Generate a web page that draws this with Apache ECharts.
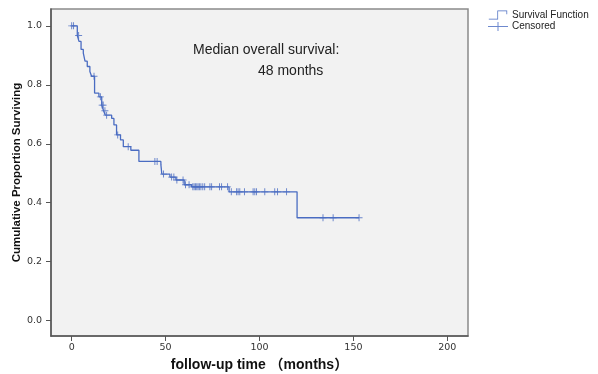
<!DOCTYPE html>
<html>
<head>
<meta charset="utf-8">
<script src="https://cdn.jsdelivr.net/npm/echarts@6/dist/echarts.min.js"></script>
<style>
html,body{margin:0;padding:0;background:#fff;}
#chart{width:598px;height:374px;}
</style>
</head>
<body>
<div id="chart"></div>
<script>
// event times (months) and survival right after each step
var eventTimes = [0, 3.0, 3.9, 5.0, 6.2, 7.1, 8.3, 9.7, 10.6, 12.2, 14.5, 16.0, 17.0, 17.9, 21.3, 22.5, 23.9, 26.0, 27.5, 31.5, 35.8, 47.5, 48.0, 52.3, 55.5, 59.9, 63.8, 83.8, 120.0, 153.0];
var survival   = [1.0, 0.967, 0.947, 0.92, 0.907, 0.88, 0.862, 0.845, 0.829, 0.772, 0.759, 0.731, 0.712, 0.697, 0.686, 0.664, 0.63, 0.613, 0.59, 0.578, 0.54, 0.529, 0.497, 0.487, 0.477, 0.461, 0.454, 0.437, 0.349, 0.349];
// censored times (months)
var censorTimes = [0, 1.0, 3.7, 11.9, 15.3, 16.2, 16.8, 17.7, 18.6, 24.5, 30.1, 44.3, 45.5, 48.9, 53.2, 54.4, 56.0, 59.3, 60.6, 62.5,
  64.5, 65.2, 65.9, 66.6, 67.3, 68.0, 68.8, 69.8, 70.8, 73.6, 74.5, 78.7, 79.8, 83.0, 85.0, 87.8, 88.6, 89.5, 92.0, 96.6, 97.5, 98.4,
  102.8, 108.1, 109.6, 114.4, 133.8, 139.2, 153.0];
var xTicks = [0, 50, 100, 150, 200];
var yTicks = [0, 0.2, 0.4, 0.6, 0.8, 1.0];

var lineColor = '#4a6cc2';

function survAt(t)
{
	var s = 1;
	for (var i = 0; i < eventTimes.length; i++) {
		if (eventTimes[i] <= t) s = survival[i];
	}
	return s;
}

var stepData = [];
for (var i = 0; i < eventTimes.length; i++) {
	stepData.push([eventTimes[i], survival[i]]);
}
var censorData = [];
for (var j = 0; j < censorTimes.length; j++) {
	censorData.push([censorTimes[j], survAt(censorTimes[j])]);
}

var myChart = echarts.init(document.getElementById('chart'), null, {renderer: 'canvas'});

var option = {
	backgroundColor: '#ffffff',
	animation: false,
	grid: {
		left: 51, top: 9, right: 130, bottom: 38,
		outerBoundsMode: 'none',
		containLabel: false,
		show: true,
		backgroundColor: '#f2f2f2',
		borderColor: '#8a8a8a',
		borderWidth: 1.5
	},
	legend: {
		orient: 'vertical',
		left: 488,
		top: 10,
		padding: 0,
		itemWidth: 20,
		itemHeight: 9,
		itemGap: 1.5,
		textStyle: {fontSize: 10, color: '#222', fontFamily: 'Liberation Sans', padding: [0, 0, 0, -1]},
		data: [
			{name: 'Survival Function', icon: 'path://M0,9 L9.3,9 L9.3,0 L20,0 L20,4 L19.2,4 L19.2,0.8 L10.1,0.8 L10.1,9.8 L0,9.8 Z'},
			{name: 'Censored', icon: 'path://M0,4.6 L9.5,4.6 L9.5,0.5 L10.5,0.5 L10.5,4.6 L20,4.6 L20,5.4 L10.5,5.4 L10.5,9.5 L9.5,9.5 L9.5,5.4 L0,5.4 Z'}
		]
	},
	xAxis: {
		type: 'value',
		min: -11,
		max: 211,
		name: 'follow-up time （months）',
		nameLocation: 'middle',
		nameGap: 22,
		nameMoveOverlap: false,
		nameTextStyle: {fontSize: 14, fontWeight: 'bold', color: '#111', fontFamily: 'Liberation Sans, Noto Sans CJK SC'},
		axisLine: {show: true, onZero: false, lineStyle: {color: '#555', width: 1.5}},
		axisTick: {show: true, length: 5, customValues: xTicks, lineStyle: {color: '#555'}},
		axisLabel: {customValues: xTicks, margin: 7, fontSize: 9.5, color: '#333', fontFamily: 'DejaVu Sans'},
		splitLine: {show: false}
	},
	yAxis: {
		type: 'value',
		min: -0.052,
		max: 1.057,
		name: 'Cumulative Proportion Surviving',
		nameLocation: 'middle',
		nameGap: 28,
		nameMoveOverlap: false,
		nameTextStyle: {fontSize: 11.5, fontWeight: 'bold', color: '#111', fontFamily: 'Liberation Sans Narrow, Liberation Sans'},
		axisLine: {show: true, onZero: false, lineStyle: {color: '#555', width: 1.5}},
		axisTick: {show: true, length: 5, customValues: yTicks, lineStyle: {color: '#555'}},
		axisLabel: {customValues: yTicks, margin: 9, fontSize: 9.5, color: '#333', fontFamily: 'DejaVu Sans',
			formatter: function (v) { return v.toFixed(1); }},
		splitLine: {show: false}
	},
	graphic: [
		{type: 'text', x: 193, y: 50, style: {text: 'Median overall survival:', font: '14px Liberation Sans', fill: '#222', verticalAlign: 'middle'}},
		{type: 'text', x: 258, y: 71, style: {text: '48 months', font: '14px Liberation Sans', fill: '#222', verticalAlign: 'middle'}}
	],
	series: [
		{
			name: 'Survival Function',
			type: 'line',
			step: 'end',
			showSymbol: false,
			symbol: 'none',
			color: lineColor,
			lineStyle: {color: lineColor, width: 1.3},
			data: stepData
		},
		{
			name: 'Censored',
			type: 'scatter',
			color: lineColor,
			symbol: 'path://M0,4.4 L10,4.4 L10,5.6 L0,5.6 Z M4.3,0 L5.7,0 L5.7,10 L4.3,10 Z',
			symbolSize: [7, 7],
			itemStyle: {color: lineColor},
			data: censorData
		}
	]
};

myChart.setOption(option);
</script>
</body>
</html>
